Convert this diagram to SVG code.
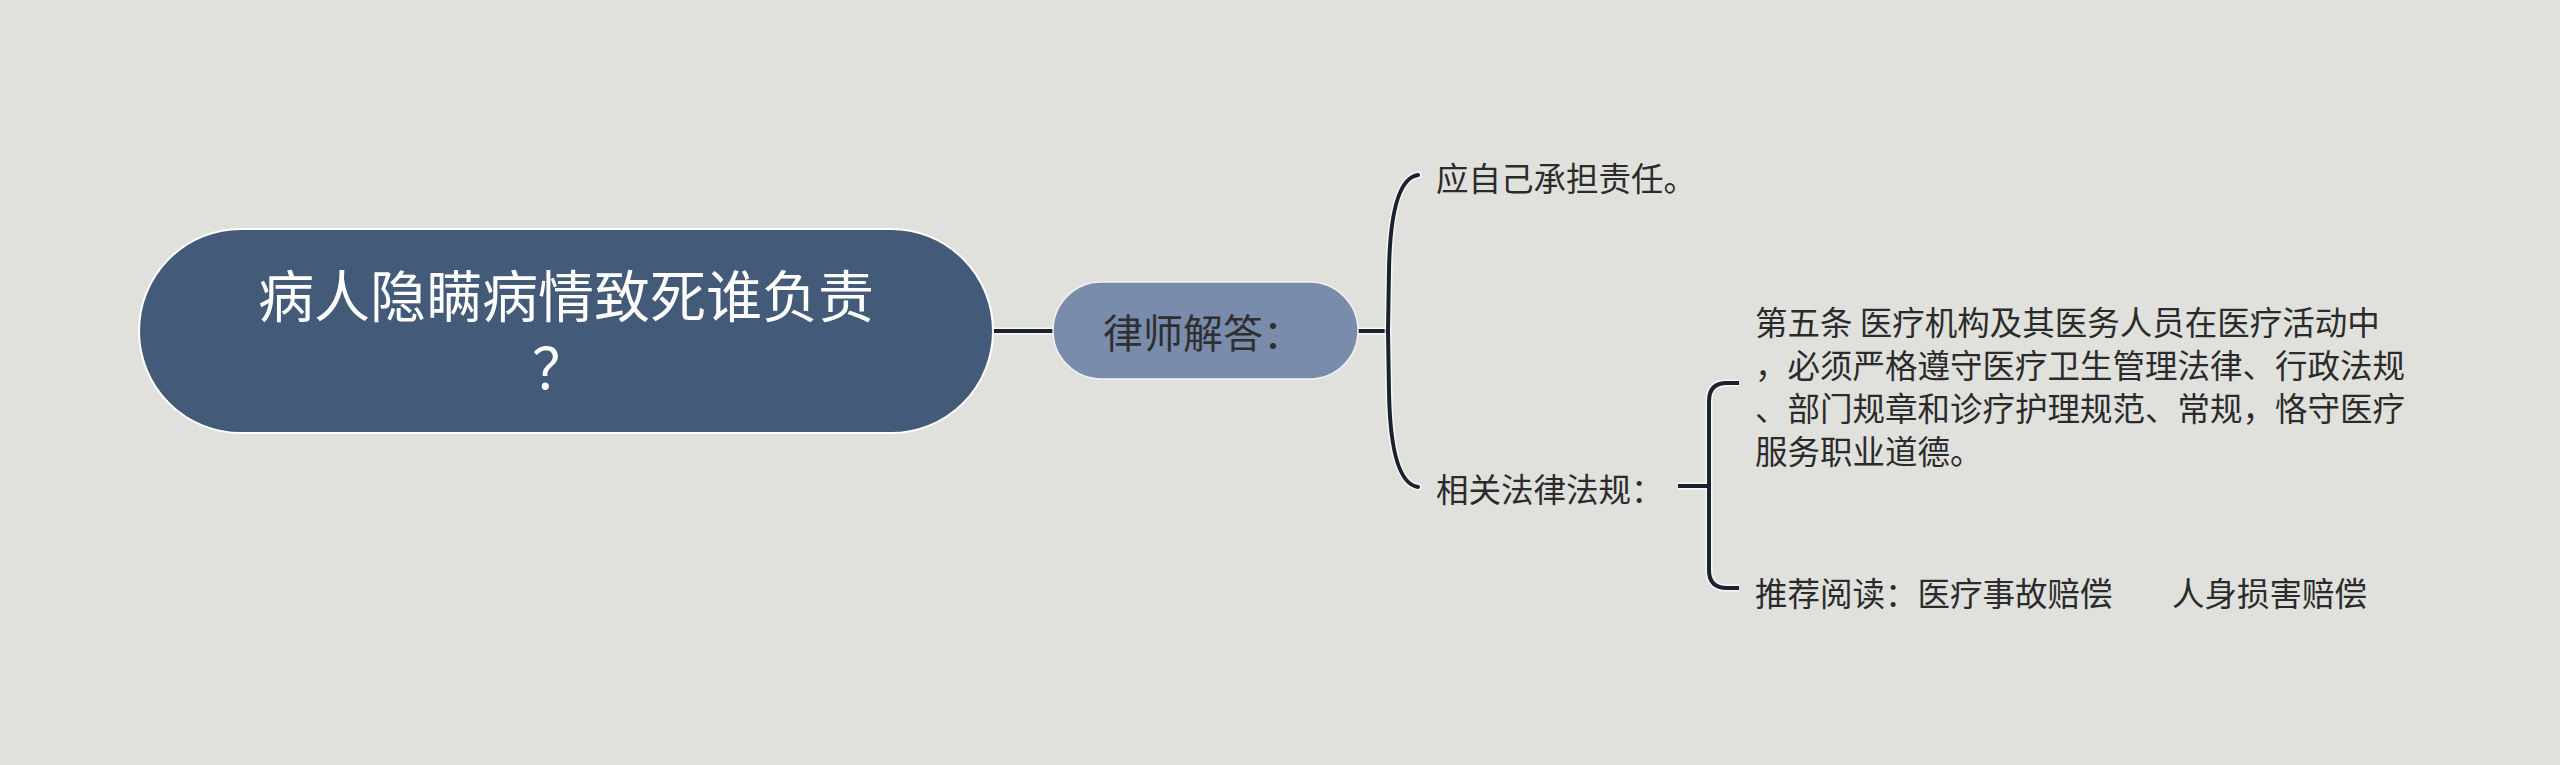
<svg xmlns="http://www.w3.org/2000/svg" width="2560" height="765" viewBox="0 0 2560 765">
<style>
.t{font-family:"Noto Sans CJK SC","Noto Sans",sans-serif}
.c{dominant-baseline:central}
.root-t{font-size:56px;fill:#ffffff}
.mid-t{font-size:40px;fill:#2f2f2f}
.leaf-t{font-size:32.5px;fill:#2b2b2b}
.halo{fill:none;stroke:#ffffff;stroke-opacity:0.75;stroke-width:7}
.line{fill:none;stroke:#1a2230;stroke-width:4}
</style>
<rect x="0" y="0" width="2560" height="765" fill="#e0e1dc"/>
<g id="connectors">
  <path class="halo" d="M993,331 H1053"/>
  <path class="line" d="M993,331 H1053"/>
  <path class="halo" d="M1358,331 H1388"/>
  <path class="line" d="M1358,331 H1388"/>
  <path class="halo" stroke-linecap="round" d="M1418,175 C1398,178 1390,215 1389,270 L1388,331 L1389,392 C1390,447 1398,484 1418,487"/>
  <path class="line" stroke-linecap="round" d="M1418,175 C1398,178 1390,215 1389,270 L1388,331 L1389,392 C1390,447 1398,484 1418,487"/>
  <path class="halo" d="M1678,486 H1709 M1739,383 H1727 Q1709,383 1709,401 V570 Q1709,588 1727,588 H1739"/>
  <path class="line" d="M1678,486 H1709 M1739,383 H1727 Q1709,383 1709,401 V570 Q1709,588 1727,588 H1739"/>
</g>
<g id="root">
  <rect x="139" y="229" width="854" height="204" rx="102" fill="#435a78" stroke="#ffffff" stroke-width="2"/>
  <text class="t root-t" text-anchor="middle"><tspan x="566" y="317">病人隐瞒病情致死谁负责</tspan><tspan x="560" y="389">？</tspan></text>
</g>
<g id="lawyer">
  <rect x="1053" y="282" width="305" height="97" rx="48.5" fill="#7a8cab" stroke="#f2f2f2" stroke-width="1.5"/>
  <text class="t c mid-t" x="1103" y="331">律师解答：</text>
</g>
<g id="answer">
  <text class="t c leaf-t" x="1436" y="176">应自己承担责任。</text>
</g>
<g id="laws">
  <text class="t c leaf-t" x="1436" y="487">相关法律法规：</text>
</g>
<g id="article">
  <text class="t c leaf-t" x="1755" y="320" xml:space="preserve">第五条 医疗机构及其医务人员在医疗活动中</text>
  <text class="t c leaf-t" x="1755" y="363">，必须严格遵守医疗卫生管理法律、行政法规</text>
  <text class="t c leaf-t" x="1755" y="406">、部门规章和诊疗护理规范、常规，恪守医疗</text>
  <text class="t c leaf-t" x="1755" y="449">服务职业道德。</text>
</g>
<g id="reading">
  <text class="t c leaf-t" x="1755" y="591">推荐阅读：医疗事故赔偿<tspan x="2172">人身损害赔偿</tspan></text>
</g>
</svg>
